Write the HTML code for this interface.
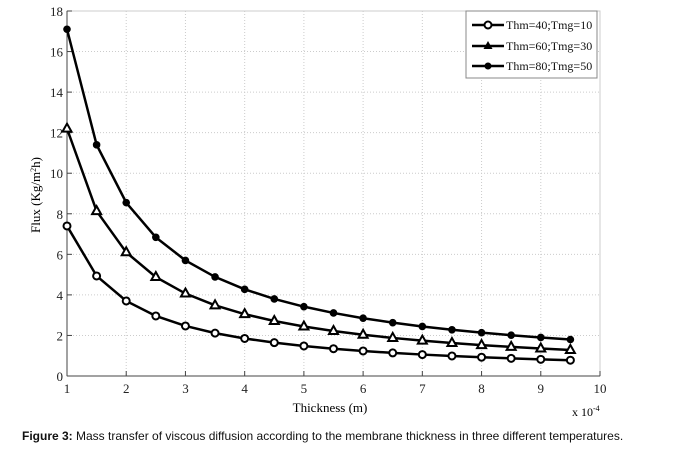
<!DOCTYPE html>
<html><head><meta charset="utf-8"><style>
body{margin:0;background:#fff;width:700px;height:449px;overflow:hidden}
svg{display:block}
</style></head><body>
<svg id="s" width="700" height="449" xmlns="http://www.w3.org/2000/svg" font-family="Liberation Serif, serif">
<rect x="67" y="11" width="533" height="365" fill="none" stroke="#ccc" stroke-width="1"/>
<g id="grid" stroke="#ccc" stroke-dasharray="1,2" stroke-width="1"></g>
<line x1="67" y1="11" x2="67" y2="376" stroke="#444" stroke-width="1"/>
<line x1="67" y1="376" x2="600" y2="376" stroke="#444" stroke-width="1"/>
<g id="ticks" stroke="#444"></g>
<g id="lbl" font-size="13" fill="#222"></g>
<g id="ser"></g>
<text x="330" y="412" font-size="13" text-anchor="middle">Thickness (m)</text>
<text x="572" y="416" font-size="12">x 10<tspan dy="-5" font-size="8">-4</tspan></text>
<text transform="translate(40,195) rotate(-90)" font-size="13" text-anchor="middle">Flux (Kg/m<tspan dy="-4" font-size="8">2</tspan><tspan dy="4">h)</tspan></text>
<rect x="466" y="11" width="131" height="67" fill="#fff" stroke="#888"/>
<g stroke="#000" stroke-width="2.5">
<line x1="472" y1="25" x2="504" y2="25"/><line x1="472" y1="46" x2="504" y2="46"/><line x1="472" y1="66" x2="504" y2="66"/>
</g>
<circle cx="488" cy="25" r="3.5" fill="#fff" stroke="#000" stroke-width="2"/>
<polygon points="488,41 492.5,49 483.5,49" fill="#000"/>
<circle cx="488" cy="66" r="3.5" fill="#000"/>
<g font-size="12" fill="#111">
<text x="506" y="29">Thm=40;Tmg=10</text>
<text x="506" y="50">Thm=60;Tmg=30</text>
<text x="506" y="70">Thm=80;Tmg=50</text>
</g>
<text x="22" y="440" font-family="Liberation Sans, sans-serif" font-size="12" fill="#111"><tspan font-weight="bold">Figure 3:</tspan> Mass transfer of viscous diffusion according to the membrane thickness in three different temperatures.</text>
</svg>
<script>
const X=v=>67+(v-1)*533/9, Y=v=>376-v*365/18, NS="http://www.w3.org/2000/svg";
function el(p,t,a,txt){const e=document.createElementNS(NS,t);for(const k in a)e.setAttribute(k,a[k]);if(txt!=null)e.textContent=txt;document.getElementById(p).appendChild(e);}
for(let i=2;i<=9;i++)el('grid','line',{x1:X(i),y1:11,x2:X(i),y2:376});
for(let j=2;j<=16;j+=2)el('grid','line',{x1:67,y1:Y(j),x2:600,y2:Y(j)});
for(let i=1;i<=10;i++){el('ticks','line',{x1:X(i),y1:376,x2:X(i),y2:371});el('lbl','text',{x:X(i),y:393,'text-anchor':'middle'},i);}
for(let j=0;j<=18;j+=2){el('ticks','line',{x1:67,y1:Y(j),x2:72,y2:Y(j)});el('lbl','text',{x:63,y:Y(j)+5,'text-anchor':'end'},j);}
[[7.4,'o'],[12.2,'t'],[17.1,'c']].forEach(([c,m])=>{let pts=[];for(let x=1;x<=9.51;x+=0.5)pts.push([X(x),Y(c/x)]);
el('ser','polyline',{points:pts.map(p=>p.join(',')).join(' '),fill:'none',stroke:'#000','stroke-width':2.5});
pts.forEach(([x,y])=>{if(m=='o')el('ser','circle',{cx:x,cy:y,r:3.5,fill:'#fff',stroke:'#000','stroke-width':2});
else if(m=='t')el('ser','polygon',{points:`${x},${y-5} ${x+4.5},${y+3} ${x-4.5},${y+3}`,fill:'#fff',stroke:'#000','stroke-width':2});
else el('ser','circle',{cx:x,cy:y,r:3.8,fill:'#000'});});});
</script>
</body></html>
